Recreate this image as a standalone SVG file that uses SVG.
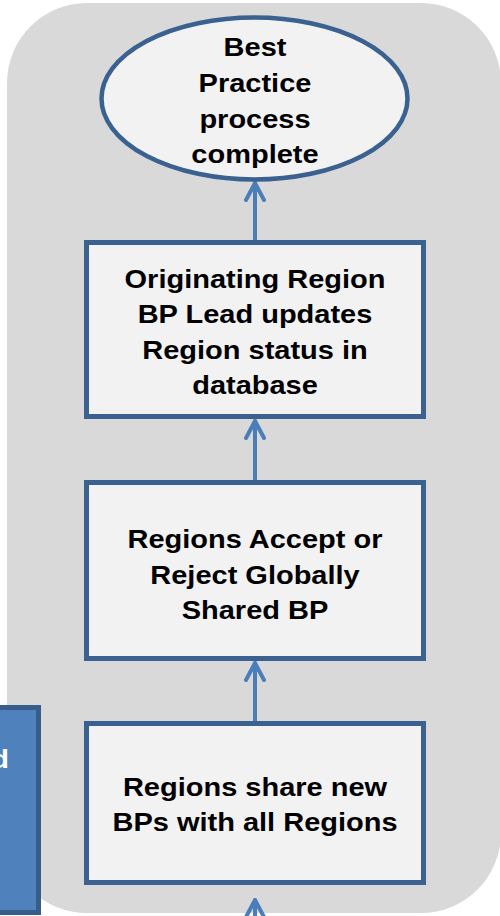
<svg xmlns="http://www.w3.org/2000/svg" width="500" height="916" viewBox="0 0 500 916">
<style>
.node{fill:#F2F2F2;stroke:#3A6190;stroke-width:5}
.lbl{font-family:"Liberation Sans",Arial,sans-serif;font-weight:bold;font-size:25px;fill:#000;text-anchor:middle}
.con{stroke:#4A7EBB;stroke-width:4;fill:none;stroke-linecap:round;stroke-linejoin:round}
</style>
<defs>
<marker id="arr" viewBox="0 0 22 22" refX="19" refY="11" markerWidth="22" markerHeight="22" markerUnits="userSpaceOnUse" orient="auto">
<path d="M2 2 L19 11 L2 20" stroke="#4A7EBB" stroke-width="4" stroke-linecap="round" stroke-linejoin="round" fill="none"/>
</marker>
</defs>
<rect x="7" y="3" width="494" height="910" rx="80" ry="80" fill="#D9D9D9"/>
<g id="side">
<rect x="-10" y="707.5" width="48.5" height="205" fill="#4F81BD" stroke="#385D8A" stroke-width="5"/>
<g transform="translate(9 0) scale(1.16 1)"><text x="0" y="768" style="font-family:'Liberation Sans',Arial,sans-serif;font-weight:bold;font-size:25px;fill:#fff;text-anchor:end">d</text></g>
</g>
<g id="connectors">
<line class="con" x1="255" y1="240" x2="255" y2="183" marker-end="url(#arr)"/>
<line class="con" x1="255" y1="480" x2="255" y2="421" marker-end="url(#arr)"/>
<line class="con" x1="255" y1="721" x2="255" y2="663" marker-end="url(#arr)"/>
<line class="con" x1="255" y1="930" x2="255" y2="900" marker-end="url(#arr)"/>
</g>
<g id="end">
<ellipse class="node" cx="254.5" cy="98.5" rx="153" ry="81" style="stroke-width:4.5"/>
<g transform="translate(255 0) scale(1.16 1)">
<text class="lbl" x="0" y="56">Best</text>
<text class="lbl" x="0" y="92.5">Practice</text>
<text class="lbl" x="0" y="128">process</text>
<text class="lbl" x="0" y="163">complete</text>
</g>
</g>
<g id="update">
<rect class="node" x="86.5" y="242.5" width="337" height="174"/>
<g transform="translate(255 0) scale(1.16 1)">
<text class="lbl" x="0" y="288">Originating Region</text>
<text class="lbl" x="0" y="323.5">BP Lead updates</text>
<text class="lbl" x="0" y="359">Region status in</text>
<text class="lbl" x="0" y="394">database</text>
</g>
</g>
<g id="accept">
<rect class="node" x="86.5" y="482.5" width="337" height="176"/>
<g transform="translate(255 0) scale(1.16 1)">
<text class="lbl" x="0" y="548.5">Regions Accept or</text>
<text class="lbl" x="0" y="584">Reject Globally</text>
<text class="lbl" x="0" y="619">Shared BP</text>
</g>
</g>
<g id="share">
<rect class="node" x="86.5" y="723.5" width="337" height="159"/>
<g transform="translate(255 0) scale(1.16 1)">
<text class="lbl" x="0" y="796">Regions share new</text>
<text class="lbl" x="0" y="831">BPs with all Regions</text>
</g>
</g>
</svg>
